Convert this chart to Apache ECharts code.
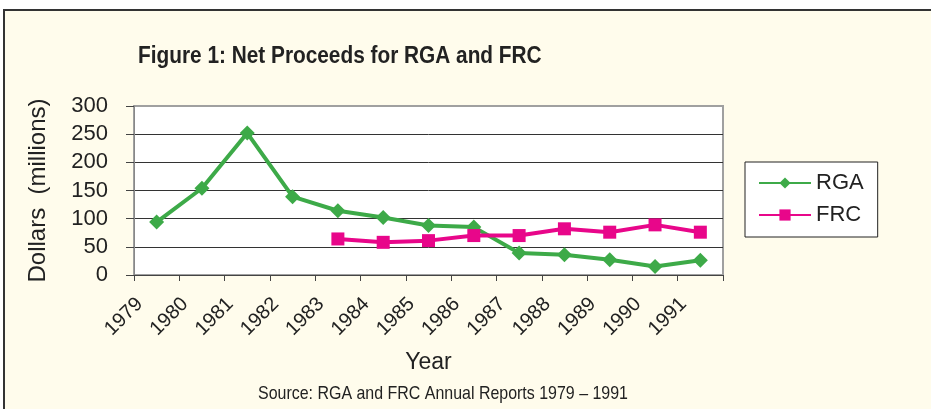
<!DOCTYPE html>
<html><head><meta charset="utf-8">
<script src="https://cdn.jsdelivr.net/npm/echarts@6/dist/echarts.min.js"></script>
<style>html,body{margin:0;padding:0;background:#fff}#c{width:931px;height:409px}</style>
</head><body><div id="c"></div>
<script>
const years = ['1979','1980','1981','1982','1983','1984','1985','1986','1987','1988','1989','1990','1991'];
const rga = [94, 154, 252, 139, 114, 102, 88, 85, 39, 36, 27, 15, 26];
const frc = [null, null, null, null, 64, 58, 61, 70, 70, 82, 76, 89, 76];
const yTicks = [0, 50, 100, 150, 200, 250, 300];
const titleText = 'Figure 1: Net Proceeds for RGA and FRC';
const sourceText = 'Source: RGA and FRC Annual Reports 1979 \u2013 1991';

const FONT = '"Liberation Sans", Arial, sans-serif';
const chart = echarts.init(document.getElementById('c'));
chart.setOption({
  animation: false,
  backgroundColor: '#ffffff',
  graphic: [
    {type:'rect', z:-10, shape:{x:4, y:10, width:1000, height:500}, style:{fill:'#FFFCEC', stroke:'#333', lineWidth:2}},
    {type:'text', x:138, y:57, scaleX:0.905, style:{text:titleText, font:'bold 23px ' + FONT, fill:'#222', textAlign:'left', textVerticalAlign:'middle'}},
    {type:'text', x:258, y:394, scaleX:0.84, style:{text:sourceText, font:'19px ' + FONT, fill:'#222', textAlign:'left', textVerticalAlign:'middle'}}
  ],
  grid: {left:134, right:208, top:106, bottom:134, show:true, backgroundColor:'#fff', borderColor:'#a0a0a0', borderWidth:2},
  legend: {
    orient:'vertical', left:745, top:162,
    backgroundColor:'#fff', borderColor:'#222', borderWidth:1,
    padding:[10,14,11,13], itemGap:10, itemWidth:52, itemHeight:14,
    textStyle:{fontSize:22, color:'#222', fontFamily:FONT},
    data:['RGA','FRC']
  },
  xAxis: {
    type:'category', data:years, boundaryGap:true,
    name:'Year', nameLocation:'middle', nameGap:76,
    nameTextStyle:{fontSize:23, color:'#222', fontFamily:FONT},
    axisLine:{lineStyle:{color:'#444', width:1}},
    axisTick:{show:true, length:6, lineStyle:{color:'#444'}},
    axisLabel:{rotate:45, fontSize:20, color:'#222', margin:9, padding:[0,24,0,0], fontFamily:FONT, interval:0}
  },
  yAxis: {
    type:'value', min:yTicks[0], max:yTicks[yTicks.length-1], interval:50,
    name:'Dollars  (millions)', nameLocation:'middle', nameGap:84,
    nameTextStyle:{fontSize:24, color:'#222', fontFamily:FONT},
    axisLine:{show:true, lineStyle:{color:'#888', width:1}},
    axisTick:{show:true, length:8, lineStyle:{color:'#444'}},
    axisLabel:{fontSize:22, color:'#222', margin:26, fontFamily:FONT},
    splitLine:{show:true, lineStyle:{color:['#333','#333','#333','#333','#333','#333','#a0a0a0'], width:1}}
  },
  series: [
    {name:'RGA', type:'line', data:rga, symbol:'diamond', symbolSize:15, color:'#3DAA48',
     lineStyle:{width:4, color:'#3DAA48'}, itemStyle:{color:'#3DAA48'}},
    {name:'FRC', type:'line', data:frc, symbol:'rect', symbolSize:13, color:'#E8068A',
     lineStyle:{width:4, color:'#E8068A'}, itemStyle:{color:'#E8068A'}}
  ]
});
</script></body></html>
